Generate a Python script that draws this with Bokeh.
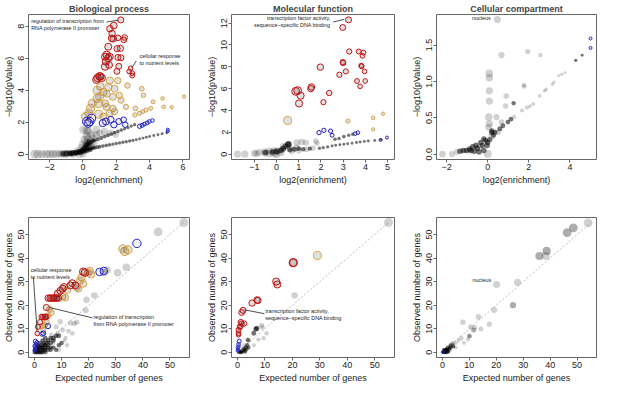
import math
from bokeh.plotting import figure
from bokeh.layouts import column, row
from bokeh.models import Range1d, FixedTicker, Label, ColumnDataSource
from bokeh.embed import file_html
from bokeh.resources import INLINE

FONT = "Liberation Sans"
RED = "#C81414"
GOLD = "#D9A444"
BLUE = "#2323C8"
BOX = "#666666"

# ---------------- tick labels ----------------
bp_xticks = [-2, 0, 2, 4, 6]
bp_yticks = [0, 2, 4, 6, 8]
mf_xticks = [-1, 0, 1, 2, 3, 4, 5]
mf_yticks = [0, 2, 4, 6, 8, 10, 12]
cc_xticks = [-2, 0, 2, 4]
cc_yticks = [0, 0.5, 1, 1.5]
cc_ylabels = ["0.0", "0.5", "1.0", "1.5"]
cnt_ticks = [0, 10, 20, 30, 40, 50]
diag_x = [0, 55]
diag_y = [0, 55]

# ---------------- Biological process: log2(enrichment), -log10(p), genes ----------------
bp_red = [(2.27, 8.4, 19), (1.85, 8.05, 25), (1.62, 7.85, 23), (1.75, 7.55, 23), (1.72, 7.25, 23),
          (1.82, 7.22, 23), (2.1, 7.28, 15), (2.45, 7.15, 15), (2.5, 7.3, 15), (1.52, 6.72, 28),
          (2.25, 6.62, 20), (2.05, 6.6, 20), (1.42, 6.22, 30), (1.33, 6.1, 30), (1.52, 6.0, 30),
          (1.61, 6.1, 28), (1.38, 5.8, 32), (2.28, 6.03, 18), (2.1, 6.05, 18), (2.15, 5.5, 17),
          (2.04, 5.18, 17), (1.57, 5.58, 26), (1.33, 5.48, 34), (2.86, 5.38, 8), (2.77, 5.17, 8),
          (2.96, 5.07, 8), (2.96, 4.91, 8), (1.0, 4.87, 34), (0.88, 4.77, 34), (1.13, 4.77, 33),
          (0.81, 4.66, 34), (1.04, 4.85, 34)]
bp_gold = [(1.61, 4.6, 30), (2.09, 4.6, 22), (2.67, 4.29, 14), (1.52, 4.19, 30), (1.04, 4.23, 35),
           (0.85, 3.99, 40), (1.23, 3.88, 34), (1.42, 3.78, 30), (1.9, 4.09, 27), (1.8, 3.58, 27),
           (2.19, 3.68, 20), (2.29, 3.37, 18), (0.85, 3.48, 40), (0.94, 3.17, 44), (1.33, 3.17, 30),
           (1.42, 2.96, 30), (1.8, 2.86, 23), (1.9, 2.66, 22), (1.61, 2.56, 26), (2.58, 2.96, 12),
           (3.53, 4.09, 8), (3.63, 3.68, 7), (3.15, 2.86, 8), (3.11, 2.45, 6), (3.4, 2.56, 6),
           (3.59, 2.66, 5), (3.79, 2.76, 5), (4.07, 2.86, 4), (4.21, 3.27, 4), (4.84, 2.96, 3),
           (4.78, 3.48, 3), (5.32, 2.93, 2), (6.07, 3.6, 2), (1.23, 2.35, 26), (0.46, 2.86, 46),
           (0.36, 2.56, 44), (0.56, 3.17, 44), (0.17, 2.35, 46), (1.0, 3.6, 40), (0.95, 2.5, 40)]
bp_blue = [(0.33, 1.94, 46), (0.23, 2.04, 46), (0.52, 2.25, 42), (0.42, 2.04, 44), (1.19, 1.94, 30),
           (1.38, 2.04, 28), (1.67, 2.15, 25), (1.86, 1.84, 22), (2.15, 2.04, 18), (2.44, 2.15, 15),
           (2.54, 1.84, 14), (3.4, 1.74, 6), (3.55, 1.8, 5), (3.69, 1.88, 4), (3.85, 1.95, 4),
           (3.98, 2.04, 3), (4.17, 2.1, 3), (5.09, 1.53, 1), (5.09, 1.43, 1)]
bp_light = [(-2.9, 0.0, 50), (-2.7, 0.0, 50), (-2.45, 0.0, 45), (-2.2, 0.0, 45), (-2.0, 0.0, 40),
            (-1.8, 0.01, 40), (-1.6, 0.01, 38), (-1.4, 0.02, 35), (-1.25, 0.02, 35), (-1.1, 0.03, 30),
            (-0.95, 0.04, 30), (-0.8, 0.05, 28), (-0.65, 0.06, 25), (-0.5, 0.08, 25), (-0.35, 0.1, 22),
            (-0.2, 0.13, 20), (-0.1, 0.15, 20), (0.0, 0.18, 18), (0.04, 1.53, 50), (0.33, 1.43, 50),
            (0.23, 1.49, 48), (0.23, 1.1, 45), (0.81, 1.53, 35), (1.29, 1.43, 30), (1.67, 1.33, 25),
            (1.96, 1.23, 22), (0.1, 0.9, 45), (0.3, 0.95, 40), (0.5, 1.2, 40), (0.6, 1.0, 35),
            (0.0, 0.6, 40), (-0.1, 0.4, 35), (0.2, 0.7, 38), (0.4, 0.6, 36), (0.5, 0.5, 34),
            (0.3, 0.4, 36), (0.1, 0.3, 38), (-0.3, 0.2, 30), (0.0, 0.05, 40), (-0.2, 0.0, 40),
            (0.8, 1.2, 32), (1.0, 1.3, 30), (0.65, 0.7, 34), (-0.6, 0.0, 35), (-1.0, 0.0, 35)]
bp_dark = [(-1.2, 0.02, 14), (-1.0, 0.04, 14), (-0.8, 0.05, 12), (-0.6, 0.07, 12), (-0.45, 0.1, 10),
           (-0.3, 0.13, 10), (-0.2, 0.16, 8), (-0.1, 0.19, 8), (0.0, 0.22, 7), (0.1, 0.25, 7),
           (0.2, 0.28, 6), (0.3, 0.3, 6), (0.4, 0.33, 5), (0.5, 0.36, 5), (0.6, 0.38, 5),
           (0.7, 0.4, 4), (0.85, 0.43, 4), (1.0, 0.46, 4), (1.2, 0.5, 3), (1.4, 0.54, 3),
           (1.6, 0.58, 3), (1.8, 0.62, 2), (2.0, 0.66, 2), (2.2, 0.7, 2), (2.4, 0.74, 2),
           (2.6, 0.77, 2), (2.8, 0.82, 2), (3.0, 0.86, 2), (3.2, 0.9, 1), (3.4, 0.95, 1),
           (3.6, 1.0, 1), (3.8, 1.05, 1), (4.0, 1.1, 1), (4.25, 1.16, 1), (4.5, 1.21, 1),
           (4.75, 1.27, 1), (5.03, 1.33, 1), (0.2, 0.45, 10), (0.3, 0.55, 9), (0.4, 0.65, 8),
           (0.5, 0.75, 7), (0.1, 0.35, 12), (0.0, 0.3, 12), (0.6, 0.85, 6), (0.15, 0.55, 10),
           (0.25, 0.65, 9), (0.35, 0.8, 8), (0.7, 0.85, 5), (0.9, 0.93, 5), (1.1, 1.01, 4),
           (1.3, 1.1, 4), (1.5, 1.18, 4), (1.7, 1.26, 3), (1.9, 1.34, 3), (2.1, 1.42, 3),
           (2.3, 1.5, 3), (2.5, 1.58, 2), (2.7, 1.66, 2), (2.9, 1.75, 2), (3.1, 1.84, 2),
           (-0.7, 0.03, 14), (-0.4, 0.06, 12), (-0.15, 0.1, 10), (0.05, 0.15, 9), (0.25, 0.2, 8),
           (0.45, 0.25, 7)]

# ---------------- Molecular function ----------------
mf_red = [(3.24, 12.3, 18), (2.98, 11.6, 17), (3.27, 9.4, 12), (3.7, 9.4, 10), (3.91, 9.3, 9),
          (3.87, 9.0, 9), (2.98, 8.42, 13), (3.0, 8.35, 13), (3.81, 8.1, 9), (3.83, 8.05, 9),
          (1.97, 7.97, 22), (3.12, 7.58, 11), (3.96, 7.58, 8), (2.83, 7.27, 12), (3.62, 6.7, 9),
          (3.99, 6.7, 8), (3.76, 6.21, 8), (0.86, 5.75, 38), (0.95, 5.82, 38), (1.08, 5.36, 30),
          (1.01, 4.64, 29), (1.57, 6.15, 22), (1.54, 6.0, 21), (2.37, 5.6, 13), (2.11, 4.76, 12)]
mf_gold = [(0.5, 3.09, 41), (3.21, 3.03, 5), (4.35, 3.33, 3), (4.79, 3.7, 2), (4.35, 2.27, 2)]
mf_blue = [(1.91, 1.97, 6), (2.13, 2.18, 6), (2.43, 2.12, 5), (2.5, 1.73, 4), (3.54, 1.88, 3),
           (3.66, 1.97, 3), (4.97, 1.52, 1), (4.68, 1.3, 1)]
mf_light = [(-1.76, 0.0, 30), (-1.43, 0.0, 30), (-1.0, 0.09, 28), (-0.78, 0.15, 26), (-0.56, 0.21, 25),
            (-0.34, 0.3, 24), (-0.12, 0.36, 22), (0.1, 0.3, 24), (0.25, 0.45, 20), (0.91, 1.06, 25),
            (1.13, 1.12, 22), (1.32, 1.06, 20), (1.76, 1.21, 14), (1.82, 1.0, 12), (1.35, 0.45, 15),
            (1.64, 0.55, 12), (0.91, 0.61, 18), (0.61, 0.55, 22), (-0.1, 0.1, 40), (0.0, 0.0, 38),
            (-0.5, 0.1, 30), (0.2, 0.15, 30), (0.7, 0.3, 25), (1.0, 0.35, 20), (0.3, 0.75, 22),
            (0.0, 0.25, 30), (-0.9, 0.05, 25), (-0.3, 0.05, 35)]
mf_dark = [(1.93, 0.55, 2), (2.1, 0.6, 2), (2.3, 0.67, 2), (2.5, 0.74, 1), (2.66, 0.82, 1),
           (2.85, 0.87, 1), (3.03, 0.91, 1), (3.2, 0.96, 1), (3.4, 1.0, 1), (3.6, 1.06, 1),
           (3.76, 1.12, 1), (3.95, 1.17, 1), (4.13, 1.21, 1), (4.42, 1.25, 1), (4.7, 1.35, 1),
           (2.63, 1.36, 3), (2.81, 1.43, 3), (3.03, 1.61, 3), (3.25, 1.73, 2), (3.43, 1.82, 2),
           (0.54, 0.91, 20), (0.52, 0.88, 20), (0.4, 0.7, 18), (0.3, 0.5, 15), (0.6, 0.4, 12),
           (0.8, 0.45, 10), (1.0, 0.5, 8), (1.2, 0.45, 8), (1.5, 0.5, 6), (0.2, 0.35, 15),
           (0.0, 0.25, 15), (-0.2, 0.2, 15), (-0.5, 0.15, 15)]

# ---------------- Cellular compartment ----------------
cc_light = [(0.47, 1.85, 29), (0.67, 1.36, 20), (1.95, 1.41, 12), (2.56, 1.36, 6), (0.08, 1.11, 35),
            (0.08, 1.05, 35), (0.08, 0.87, 30), (0.08, 0.73, 30), (0.05, 0.51, 35), (0.08, 0.42, 30),
            (0.05, 0.37, 28), (0.0, 0.0, 40), (0.9, 0.8, 14), (0.87, 0.66, 14), (1.75, 0.95, 8),
            (1.78, 0.93, 8), (0.67, 0.44, 15), (0.43, 0.51, 20), (-2.2, 0.0, 25), (-1.74, 0.0, 20),
            (-1.5, 0.03, 18), (1.29, 0.51, 6), (1.67, 0.6, 5), (1.91, 0.64, 5), (2.06, 0.66, 4),
            (2.22, 0.69, 4), (2.53, 0.8, 3), (2.76, 0.87, 3), (2.84, 0.89, 3), (3.15, 0.96, 2),
            (3.22, 0.99, 2), (3.46, 1.08, 2), (3.61, 1.1, 2), (3.77, 1.12, 1), (0.2, 0.25, 25),
            (-0.4, 0.1, 25), (-0.9, 0.05, 22), (0.5, 0.3, 18)]
cc_dark = [(1.26, 0.7, 6), (4.28, 1.29, 2), (4.59, 1.36, 1), (0.36, 0.3, 10), (0.59, 0.35, 10),
           (0.74, 0.39, 9), (0.98, 0.44, 8), (1.13, 0.48, 8), (0.28, 0.26, 10), (0.2, 0.3, 12),
           (0.2, 0.32, 12), (-0.19, 0.21, 12), (-0.34, 0.16, 12), (-0.57, 0.12, 14), (-0.73, 0.1, 14),
           (-0.88, 0.07, 14), (-1.04, 0.05, 14), (-1.19, 0.05, 14), (-1.35, 0.04, 14), (-0.26, 0.12, 12),
           (-0.11, 0.19, 12), (-0.5, 0.08, 14), (-0.65, 0.04, 14), (-0.81, 0.05, 14), (-0.42, 0.03, 14),
           (-0.19, 0.05, 14), (-0.03, 0.12, 14), (0.1, 0.2, 12), (0.0, 0.16, 12)]
cc_blue = [(5.0, 1.59, 1), (5.0, 1.46, 1)]

# ---------------- Biological process: expected, observed, genes ----------------
bpn_light = [(55.1, 55.1, 55), (45.6, 51.1, 51), (33.9, 36.1, 36), (30.7, 33.8, 34), (26.8, 34.9, 35),
             (25.6, 33.8, 34), (22.1, 24.1, 24), (19.2, 22.3, 22), (18.9, 17.8, 18), (14.7, 12.2, 12),
             (15.6, 12.8, 13), (13.3, 12.4, 12), (8.0, 10.8, 11), (10.4, 9.5, 9), (8.6, 8.1, 8),
             (6.2, 7.4, 7), (11.5, 6.1, 6), (12.5, 9.0, 9), (9.5, 13.0, 13), (11.0, 5.0, 5),
             (7.0, 4.0, 4), (5.0, 4.0, 4), (9.0, 1.0, 6), (12.0, 3.0, 6), (14.0, 8.0, 8)]
bpn_dark = [(1.0, 0.0, 6), (1.5, 1.0, 6), (2.0, 1.0, 6), (2.0, 2.0, 7), (2.5, 0.0, 6), (3.0, 1.0, 6),
            (3.0, 2.0, 7), (3.5, 3.0, 7), (4.0, 2.0, 7), (4.0, 3.0, 7), (4.5, 4.0, 8), (5.0, 3.0, 7),
            (5.0, 5.0, 8), (6.0, 4.0, 8), (6.0, 6.0, 9), (7.0, 5.0, 8), (7.0, 6.0, 9), (8.0, 7.0, 9),
            (9.0, 7.0, 9), (3.0, 5.0, 8), (2.0, 4.0, 7), (4.0, 6.0, 9), (1.0, 3.0, 6), (1.0, 2.0, 6),
            (1.5, 0.0, 6), (6.0, 2.0, 6), (7.0, 2.0, 6), (8.0, 1.0, 6), (5.0, 1.0, 6), (0.5, 0.0, 5),
            (0.5, 1.0, 5), (1.0, 1.0, 6), (2.0, 0.0, 6), (3.0, 0.0, 6), (0.0, 0.0, 5), (2.5, 3.0, 7),
            (3.5, 1.0, 6), (4.0, 0.0, 6), (6.0, 1.0, 6), (9.0, 3.0, 7), (10.0, 4.0, 7), (5.0, 2.0, 6),
            (4.0, 1.0, 6), (2.5, 2.0, 6), (3.5, 4.0, 7), (1.5, 2.5, 6)]
bpn_red = [(18.6, 33.8, 34), (18.0, 34.2, 34), (15.1, 28.4, 28), (13.3, 28.4, 28), (13.9, 29.3, 29),
           (10.4, 27.0, 27), (9.5, 26.1, 26), (8.6, 25.0, 25), (10.9, 27.7, 28), (5.1, 23.0, 23),
           (5.8, 23.0, 23), (6.4, 23.0, 23), (7.0, 23.0, 23), (7.6, 23.0, 23), (8.2, 23.0, 23),
           (8.8, 23.0, 23), (4.4, 19.0, 19), (2.7, 15.0, 15), (3.3, 15.0, 15), (3.9, 15.0, 15),
           (4.3, 15.0, 15), (2.1, 12.8, 13), (1.3, 10.8, 11), (1.05, 8.0, 8)]
bpn_gold = [(34.5, 43.5, 44), (33.3, 42.8, 43), (32.6, 43.9, 44), (20.4, 34.5, 34), (20.9, 33.1, 33),
            (19.8, 33.8, 34), (17.4, 31.8, 32), (16.8, 30.4, 30), (18.0, 29.1, 29), (15.6, 27.7, 28),
            (16.2, 27.0, 27), (12.1, 26.4, 26), (10.4, 23.6, 23), (11.4, 23.2, 23), (6.2, 16.9, 17),
            (5.0, 15.5, 15), (4.5, 12.8, 13), (3.9, 11.5, 11), (5.6, 18.2, 18), (2.7, 11.1, 11),
            (3.3, 9.5, 10)]
bpn_blue = [(37.8, 46.2, 46), (25.6, 34.5, 35), (24.0, 34.1, 34), (5.0, 11.1, 11), (3.3, 8.1, 8),
            (2.8, 7.8, 8), (0.35, 4.7, 5), (0.9, 4.1, 4), (0.1, 2.7, 3), (0.35, 1.4, 2),
            (0.05, 0.7, 1), (0.5, 3.5, 4), (0.2, 2.0, 2), (0.05, 1.0, 1)]

# ---------------- Molecular function: expected, observed, genes ----------------
mfn_light = [(55.0, 55.1, 55), (20.8, 24.1, 24), (10.6, 8.1, 8), (8.8, 11.5, 11), (7.6, 5.4, 6),
             (9.5, 6.0, 7), (9.0, 10.5, 10), (3.5, 5.5, 6), (2.5, 3.0, 5), (6.0, 3.0, 5)]
mfn_dark = [(6.7, 9.9, 11), (7.0, 10.2, 11), (3.9, 5.1, 7), (5.9, 8.1, 9), (3.0, 2.0, 5),
            (2.5, 1.0, 5), (2.0, 0.5, 4), (1.5, 0.0, 4), (1.0, 0.0, 4), (3.5, 3.0, 6), (4.0, 2.0, 5),
            (2.2, 1.5, 5), (1.2, 0.5, 4), (0.5, 0.0, 4), (2.8, 0.2, 4), (3.2, 1.2, 5)]
mfn_gold = [(29.1, 41.1, 41)]
mfn_red = [(20.4, 38.1, 38), (20.2, 38.0, 38), (14.1, 30.0, 30), (14.5, 28.8, 29), (7.4, 22.0, 22),
           (7.1, 22.2, 22), (5.3, 20.9, 21), (2.0, 17.8, 18), (1.5, 16.9, 17), (1.2, 12.8, 13),
           (1.5, 12.2, 12), (2.4, 12.2, 12), (0.8, 10.8, 11), (1.1, 11.0, 11), (0.35, 9.5, 10),
           (0.35, 8.1, 8), (0.35, 7.4, 7)]
mfn_blue = [(0.6, 4.7, 5), (0.35, 3.4, 3), (0.1, 2.0, 2), (0.0, 0.7, 1), (0.4, 2.5, 2), (0.2, 1.2, 1)]

# ---------------- Cellular compartment: expected, observed, genes ----------------
ccn_light = [(54.1, 54.9, 55), (38.4, 40.9, 41), (27.9, 29.7, 30), (20.1, 28.8, 29), (19.2, 18.0, 18),
             (17.4, 11.9, 12), (13.4, 15.0, 15), (14.3, 9.9, 10), (12.0, 10.5, 10), (10.5, 10.8, 11),
             (7.6, 12.8, 13), (9.9, 7.0, 7), (6.0, 5.0, 5), (7.0, 6.0, 6), (5.0, 4.0, 4),
             (4.0, 3.0, 4), (8.0, 4.0, 4), (9.5, 5.5, 6), (3.0, 1.0, 4), (5.0, 2.0, 4)]
ccn_mid = [(48.6, 52.8, 53), (46.3, 50.8, 51), (38.7, 43.0, 43), (36.0, 40.9, 41), (26.2, 20.0, 20),
           (11.6, 9.5, 10), (10.1, 6.8, 7), (3.8, 3.8, 5)]
ccn_dark = [(0.5, 0.0, 4), (1.0, 0.5, 4), (1.5, 1.0, 4), (2.0, 1.0, 4), (1.0, 1.0, 4), (2.0, 2.0, 5),
            (1.5, 0.0, 4), (2.5, 1.5, 5), (3.0, 2.0, 5), (0.8, 0.2, 4), (1.2, 1.2, 4), (1.8, 0.6, 4),
            (2.2, 0.2, 4), (3.0, 3.0, 5), (4.0, 2.5, 5), (0.5, 1.0, 4), (1.0, 0.0, 4)]
ccn_blue = [(0.2, 0.1, 1)]


def sizes(pts):
    return [2.0 + 0.95 * math.sqrt(q[2]) for q in pts]


def add_pts(p, pts, alpha, line=None, lw=1.0):
    src = ColumnDataSource(dict(x=[q[0] for q in pts], y=[q[1] for q in pts], s=sizes(pts)))
    p.scatter("x", "y", size="s", source=src, fill_color="black", fill_alpha=alpha,
              line_color=line, line_width=lw)


def make_fig(title, xr, yr, xt, yt, xlab, ylab, w, h, bl, br, bt, bb):
    p = figure(width=w, height=h, x_range=Range1d(*xr), y_range=Range1d(*yr),
               output_backend="svg", toolbar_location=None, title=title,
               min_border_left=bl, min_border_right=br, min_border_top=bt, min_border_bottom=bb)
    p.xgrid.visible = False
    p.ygrid.visible = False
    p.outline_line_color = BOX
    p.outline_line_width = 1
    p.background_fill_color = "white"
    p.border_fill_color = "white"
    if title:
        p.title.text_font = FONT
        p.title.text_font_size = "9px"
        p.title.text_font_style = "bold"
        p.title.align = "center"
        p.title.standoff = 2
        p.title.offset = 0
    for ax in (p.xaxis[0], p.yaxis[0]):
        ax.axis_line_color = None
        ax.major_tick_out = 3
        ax.major_tick_in = 0
        ax.minor_tick_line_color = None
        ax.major_tick_line_color = BOX
        ax.major_label_text_font = FONT
        ax.major_label_text_font_size = "9px"
        ax.major_label_text_color = "#222222"
        ax.major_label_standoff = 1
        ax.axis_label_text_font = FONT
        ax.axis_label_text_font_size = "9px"
        ax.axis_label_text_font_style = "normal"
        ax.axis_label_text_color = "#222222"
        ax.axis_label_standoff = 2
    p.xaxis[0].ticker = FixedTicker(ticks=xt)
    p.yaxis[0].ticker = FixedTicker(ticks=yt)
    p.xaxis[0].major_label_overrides = {t: (("\u2212" + str(-t)) if t < 0 else str(t)) for t in xt}
    p.yaxis[0].major_label_overrides = {t: str(t) for t in yt}
    p.xaxis[0].axis_label = xlab
    p.yaxis[0].axis_label = ylab
    p.yaxis[0].major_label_orientation = "vertical"
    return p


def note(p, x, y, lines, align="left"):
    for i, t in enumerate(lines):
        p.add_layout(Label(x=x, y=y, y_offset=-7 * i, text=t, text_font=FONT, text_font_size="5.4px",
                           text_align=align, text_baseline="middle", text_color="#222222"))


def leader(p, x0, y0, x1, y1):
    p.segment(x0=[x0], y0=[y0], x1=[x1], y1=[y1], line_color="#222222", line_width=0.8)


def volcano(p, light, dark, gold, blue, red):
    add_pts(p, light, 0.18)
    add_pts(p, dark, 0.55)
    if gold:
        add_pts(p, gold, 0.12, GOLD, 1.0)
    if blue:
        add_pts(p, blue, 0.05, BLUE, 1.0)
    if red:
        add_pts(p, red, 0.12, RED, 1.0)


W1, W2, W3 = 200, 200, 201
H1, H2 = 189, 196

p1 = make_fig("Biological process", (-3.26, 6.39), (-0.34, 8.74), bp_xticks, bp_yticks,
              "log2(enrichment)", "\u2212log10(pValue)", W1, H1, 25, 11, 13, 30)
volcano(p1, bp_light, bp_dark, bp_gold, bp_blue, bp_red)
note(p1, -3.1, 8.34, ["regulation of transcription from", "RNA polymerase II promoter"])
leader(p1, 1.42, 8.27, 2.12, 8.38)
note(p1, 3.4, 6.13, ["cellular response", "to nutrient levels"])
leader(p1, 3.2, 5.83, 2.93, 5.4)

p2 = make_fig("Molecular function", (-2.03, 5.31), (-0.49, 12.79), mf_xticks, mf_yticks,
              "log2(enrichment)", "\u2212log10(pValue)", W2, H1, 31, 6, 13, 30)
volcano(p2, mf_light, mf_dark, mf_gold, mf_blue, mf_red)
note(p2, 2.42, 12.45, ["transcription factor activity,", "sequence\u2212specific DNA binding"], "right")
leader(p2, 2.55, 12.1, 3.05, 12.35)

p3 = make_fig("Cellular compartment", (-2.49, 5.29), (-0.074, 1.92), cc_xticks, cc_yticks,
              "log2(enrichment)", "\u2212log10(pValue)", W3, H1, 36, 5, 13, 30)
p3.yaxis[0].major_label_overrides = {t: s for t, s in zip(cc_yticks, cc_ylabels)}
volcano(p3, cc_light, cc_dark, None, cc_blue, None)
note(p3, 0.14, 1.87, ["nucleus"], "right")

p4 = make_fig(None, (-2.2, 57.2), (-2.2, 57.2), cnt_ticks, cnt_ticks,
              "Expected number of genes", "Observed number of genes", W1, H2, 25, 11, 28, 26)
p4.line(diag_x, diag_y, line_color="#bbbbbb", line_dash="2 2", line_width=1)
volcano(p4, bpn_light, bpn_dark, bpn_gold, bpn_blue, bpn_red)
note(p4, -1.4, 35.1, ["cellular response", "to nutrient levels"])
leader(p4, -0.4, 31.8, 1.0, 8.6)
note(p4, 21.8, 14.9, ["regulation of transcription", "from RNA polymerase II promoter"])
leader(p4, 5.6, 19.0, 21.4, 14.6)

p5 = make_fig(None, (-2.2, 57.2), (-2.2, 57.2), cnt_ticks, cnt_ticks,
              "Expected number of genes", "Observed number of genes", W2, H2, 31, 6, 28, 26)
p5.line(diag_x, diag_y, line_color="#bbbbbb", line_dash="2 2", line_width=1)
volcano(p5, mfn_light, mfn_dark, mfn_gold, mfn_blue, mfn_red)
note(p5, 10.1, 17.7, ["transcription factor activity,", "sequence\u2212specific DNA binding"])
leader(p5, 2.6, 18.0, 9.8, 16.4)

p6 = make_fig(None, (-2.2, 57.2), (-2.2, 57.2), cnt_ticks, cnt_ticks,
              "Expected number of genes", "Observed number of genes", W3, H2, 36, 5, 28, 26)
p6.line(diag_x, diag_y, line_color="#bbbbbb", line_dash="2 2", line_width=1)
add_pts(p6, ccn_light, 0.18)
add_pts(p6, ccn_mid, 0.32)
add_pts(p6, ccn_dark, 0.6)
add_pts(p6, ccn_blue, 0.6, BLUE, 1.0)
note(p6, 18.1, 30.6, ["nucleus"], "right")

layout = column(row(p1, p2, p3), row(p4, p5, p6))
open("out.html", "w").write(file_html(layout, INLINE))
